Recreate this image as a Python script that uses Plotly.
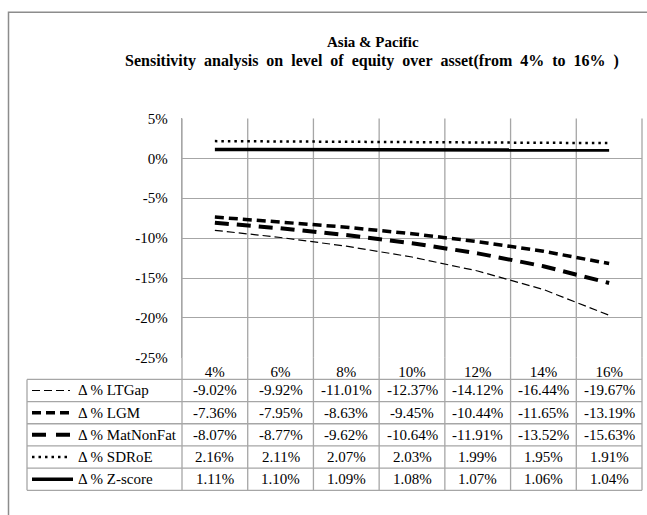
import plotly.graph_objects as go

# ---- data -------------------------------------------------------------
categories = ["4%", "6%", "8%", "10%", "12%", "14%", "16%"]
series_names = ["Δ % LTGap", "Δ % LGM", "Δ % MatNonFat", "Δ % SDRoE", "Δ % Z-score"]
ltgap = [-9.02, -9.92, -11.01, -12.37, -14.12, -16.44, -19.67]
lgm = [-7.36, -7.95, -8.63, -9.45, -10.44, -11.65, -13.19]
matnonfat = [-8.07, -8.77, -9.62, -10.64, -11.91, -13.52, -15.63]
sdroe = [2.16, 2.11, 2.07, 2.03, 1.99, 1.95, 1.91]
zscore = [1.11, 1.10, 1.09, 1.08, 1.07, 1.06, 1.04]
y_ticks = [5, 0, -5, -10, -15, -20, -25]
y_tick_labels = ["5%", "0%", "-5%", "-10%", "-15%", "-20%", "-25%"]

title_line1 = "Asia & Pacific"
title_line2 = "Sensitivity analysis on level of equity over asset(from 4% to 16% )"

series_values = [ltgap, lgm, matnonfat, sdroe, zscore]

# ---- styling -----------------------------------------------------------
W, H = 647, 515
FONT = "'Liberation Serif', 'Times New Roman', 'DejaVu Serif', serif"
GRID = "#a6a6a6"
styles = [
    dict(width=1.2, dash="8px,4px"),     # LTGap: thin dash
    dict(width=3.5, dash="9px,5px"),     # LGM: heavy short dash
    dict(width=4.0, dash="14px,8px"),    # MatNonFat: heavy long dash
    dict(width=2.5, dash="2.5px,4px"),   # SDRoE: dotted
    dict(width=3.5, dash="solid"),       # Z-score: solid
]
key_dashes = ["8px,4px", "9px,5px", "14px,10px", "2.5px,4px", "solid"]

# layout geometry (pixels)
PLOT_L, PLOT_R, PLOT_T, PLOT_B = 182, 642, 114, 361
TABLE_L = 27
ROW_H = 22.9
HEADER_B = 383.3


def px(x):
    return x / W


def py(y):
    return 1 - y / H


fig = go.Figure()

for name, vals, st in zip(series_names, series_values, styles):
    fig.add_trace(go.Scatter(
        x=categories, y=vals, name=name, mode="lines",
        line=dict(color="black", width=st["width"], dash=st["dash"]),
        showlegend=False,
    ))

shapes = []
annotations = []

# outer chart border
shapes.append(dict(type="rect", xref="paper", yref="paper",
                   x0=px(8.5), x1=px(660), y0=py(4.5), y1=py(530),
                   line=dict(color="#8c8c8c", width=1.5), layer="below"))

# data table below the plot
n = len(categories)
col_w = (PLOT_R - PLOT_L) / n
table_b = HEADER_B + ROW_H * len(series_names)

# vertical lines through header row and body
for i in range(n + 1):
    x = PLOT_L + i * col_w
    shapes.append(dict(type="line", xref="paper", yref="paper",
                       x0=px(x), x1=px(x), y0=py(PLOT_B), y1=py(table_b),
                       line=dict(color=GRID, width=1.3)))
shapes.append(dict(type="line", xref="paper", yref="paper",
                   x0=px(TABLE_L), x1=px(TABLE_L), y0=py(HEADER_B), y1=py(table_b),
                   line=dict(color=GRID, width=1.3)))
# horizontal lines
for r in range(len(series_names) + 1):
    y = HEADER_B + r * ROW_H
    shapes.append(dict(type="line", xref="paper", yref="paper",
                       x0=px(TABLE_L), x1=px(PLOT_R), y0=py(y), y1=py(y),
                       line=dict(color=GRID, width=1.3)))

# table rows: legend key, label, values
for r, (name, vals, st, kd) in enumerate(zip(series_names, series_values, styles, key_dashes)):
    yc = HEADER_B + (r + 0.5) * ROW_H
    key_end = 73 if kd == "solid" else 70
    shapes.append(dict(type="line", xref="paper", yref="paper",
                       x0=px(32), x1=px(key_end), y0=py(yc), y1=py(yc),
                       line=dict(color="black", width=st["width"], dash=kd)))
    annotations.append(dict(xref="paper", yref="paper", x=px(76), y=py(yc),
                            text=name, showarrow=False, xanchor="left", yanchor="middle",
                            font=dict(family=FONT, size=15, color="black")))
    for i, v in enumerate(vals):
        xc = PLOT_L + (i + 0.5) * col_w
        annotations.append(dict(xref="paper", yref="paper", x=px(xc), y=py(yc),
                                text=f"{v:.2f}%", showarrow=False,
                                xanchor="center", yanchor="middle",
                                font=dict(family=FONT, size=15, color="black")))

# two-line bold title; the subtitle is set with slightly wider word spacing
wide_gap = "\u00a0 "
annotations.append(dict(xref="paper", yref="paper", x=px(373), y=py(35),
                        text=f"<b>{title_line1}</b>", showarrow=False,
                        xanchor="center", yanchor="middle",
                        font=dict(family=FONT, size=15, color="black")))
annotations.append(dict(xref="paper", yref="paper", x=px(372), y=py(55),
                        text="<b>" + title_line2.replace(" ", wide_gap) + "</b>",
                        showarrow=False, xanchor="center", yanchor="middle",
                        font=dict(family=FONT, size=16, color="black")))

fig.update_layout(
    width=W, height=H,
    margin=dict(l=0, r=0, t=0, b=0),
    paper_bgcolor="white", plot_bgcolor="white",
    shapes=shapes, annotations=annotations,
    font=dict(family=FONT, size=15, color="black"),
    xaxis=dict(
        domain=[px(PLOT_L), px(PLOT_R)],
        type="category", range=[-0.5, n - 0.5],
        showgrid=False, zeroline=False,
        showline=False, ticks="", ticklabelstandoff=3,
        tickfont=dict(family=FONT, size=15, color="black"),
    ),
    yaxis=dict(
        domain=[py(PLOT_B), py(PLOT_T)],
        range=[-25, 5], tickvals=y_ticks, ticktext=y_tick_labels,
        showgrid=True, gridcolor=GRID, gridwidth=1.3,
        zeroline=False, showline=True, linecolor=GRID, linewidth=1.3,
        ticks="", ticklabelstandoff=10,
        tickfont=dict(family=FONT, size=15, color="black"),
    ),
)

# vertical gridlines between categories inside the plot
for i in range(n + 1):
    x = PLOT_L + i * col_w
    fig.add_shape(type="line", xref="paper", yref="paper",
                  x0=px(x), x1=px(x), y0=py(PLOT_B), y1=py(PLOT_T),
                  line=dict(color=GRID, width=1.3), layer="below")

fig.write_html("out.html")
